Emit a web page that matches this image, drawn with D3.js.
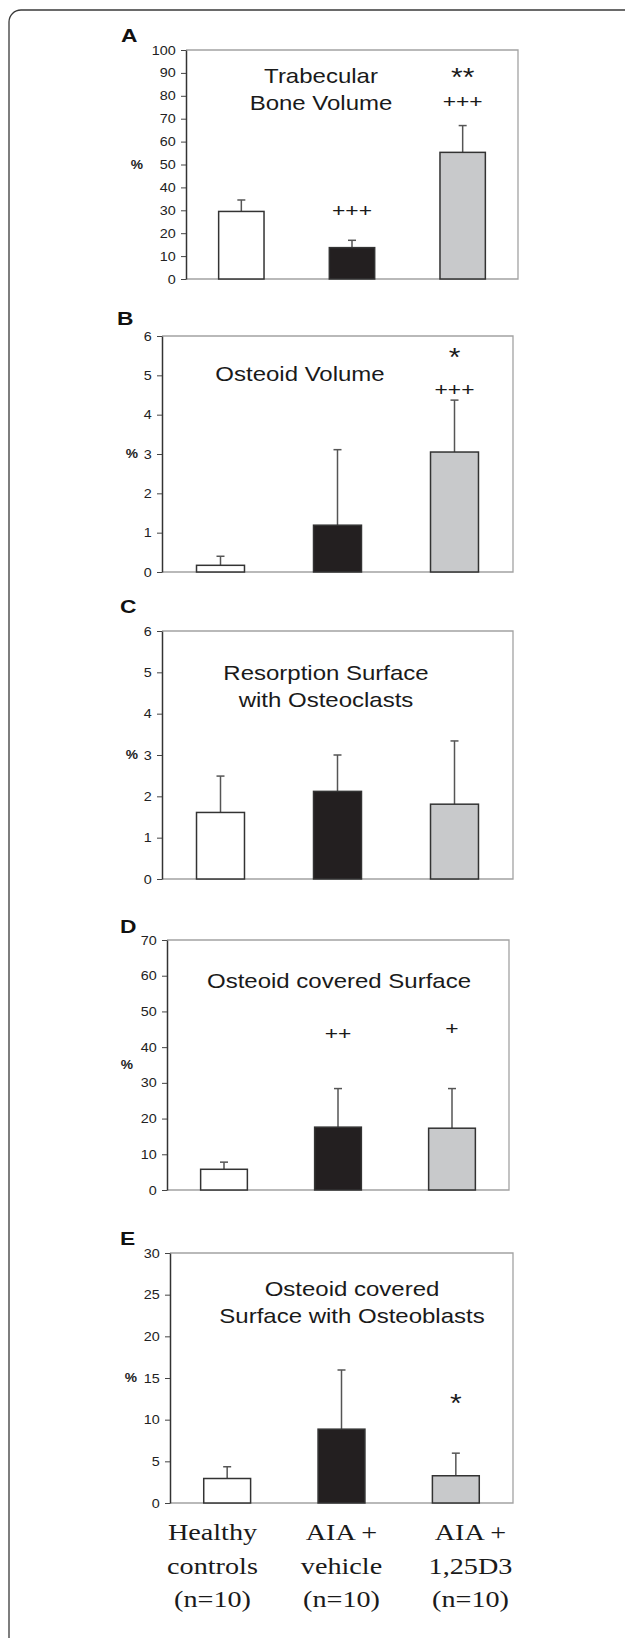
<!doctype html>
<html>
<head>
<meta charset="utf-8">
<title>Bone histomorphometry</title>
<script src="https://cdn.jsdelivr.net/npm/d3@7"></script>
<style>
  body { margin:0; background:#fff; }
  svg { display:block; }
  .tick text { font-family: Arial, "Liberation Sans", sans-serif; font-size: 12.5px; fill:#222; }
  .tick line { stroke:#444; }
</style>
</head>
<body>
<svg id="chart" width="625" height="1638"></svg>
<script>
// groups (x categories)
var groups = ["Healthy controls", "AIA + vehicle", "AIA + 1,25D3"];
var groupLines = [["Healthy", "controls", "(n=10)"], ["AIA +", "vehicle", "(n=10)"], ["AIA +", "1,25D3", "(n=10)"]];
var fills = ["#ffffff", "#231f20", "#c8c9cb"];

// panels
var panelIds = ["A", "B", "C", "D", "E"];
var panelTitles = [["Trabecular", "Bone Volume"], ["Osteoid Volume"], ["Resorption Surface", "with Osteoclasts"], ["Osteoid covered Surface"], ["Osteoid covered", "Surface with Osteoblasts"]];
var yMax = [100, 6, 6, 70, 30];
var yStep = [10, 1, 1, 10, 5];

// means and SD
var means = [
  [29.5, 13.7, 55.3],
  [0.17, 1.19, 3.05],
  [1.61, 2.12, 1.81],
  [5.8, 17.6, 17.3],
  [2.94, 8.86, 3.27]
];
var sds = [
  [5.0, 3.2, 11.7],
  [0.23, 1.92, 1.32],
  [0.88, 0.88, 1.53],
  [2.0, 10.8, 11.1],
  [1.41, 7.1, 2.71]
];

// significance marks: [group index, symbol, y value]
var marks = [
  [[1, "+++", 30], [2, "**", 90.5], [2, "+++", 77.4]],
  [[2, "*", 5.6], [2, "+++", 4.64]],
  [],
  [[1, "++", 44], [2, "+", 45.3]],
  [[2, "*", 12.6]]
];

// layout (pixels)
var boxes = [
  {l: 186, r: 518, t: 50, b: 279, lx: 121, ly: 42, tx: 321, ty: 83, px: 137, pv: 50},
  {l: 162, r: 513, t: 336, b: 572, lx: 117, ly: 325, tx: 300, ty: 381, px: 132, pv: 3},
  {l: 162, r: 513, t: 631, b: 879, lx: 120, ly: 613, tx: 326, ty: 680, px: 132, pv: 3},
  {l: 167, r: 509, t: 940, b: 1190, lx: 120, ly: 933, tx: 339, ty: 988, px: 127, pv: 35},
  {l: 170, r: 513, t: 1253, b: 1503, lx: 120, ly: 1245, tx: 352, ty: 1296, px: 131, pv: 15}
];

var SX = 1.2;
var sans = "Arial, 'Liberation Sans', sans-serif";
var svg = d3.select("#chart");

function stext(sel, x, y, str, size) {
  return sel.append("text")
    .attr("transform", "translate(" + x + "," + y + ") scale(" + SX + ",1)")
    .attr("text-anchor", "middle")
    .style("font-family", sans)
    .style("font-size", size + "px")
    .style("fill", "#1a1a1a")
    .text(str);
}

// outer frame
svg.append("rect")
  .attr("x", 9).attr("y", 10).attr("width", 700).attr("height", 1700)
  .attr("rx", 12)
  .attr("fill", "none").attr("stroke", "#3a3a3a").attr("stroke-width", 1.3);

boxes.forEach(function(bx, p) {
  var g = svg.append("g");

  var x = d3.scaleBand().domain(groups).range([bx.l, bx.r])
      .paddingInner(0.59).paddingOuter(0.295);
  var y = d3.scaleLinear().domain([0, yMax[p]]).range([bx.b, bx.t]);

  // gray frame (top, right, bottom)
  g.append("path")
    .attr("d", "M" + bx.l + "," + bx.t + "H" + bx.r + "V" + bx.b + "H" + bx.l)
    .attr("fill", "none").attr("stroke", "#a3a3a3").attr("stroke-width", 1.3);

  var axis = g.append("g")
    .attr("transform", "translate(" + bx.l + ",0)")
    .call(d3.axisLeft(y)
      .tickValues(d3.range(0, yMax[p] + yStep[p] / 2, yStep[p]))
      .tickFormat(d3.format("d"))
      .tickSize(5).tickSizeOuter(0).tickPadding(4));
  axis.select(".domain").attr("stroke", "#333").attr("stroke-width", 1.5);
  axis.selectAll(".tick text").attr("transform", "scale(1.15,1)");

  // error bars
  groups.forEach(function(gr, i) {
    var cx = x(gr) + x.bandwidth() / 2;
    var top = y(means[p][i] + sds[p][i]);
    g.append("line")
      .attr("x1", cx).attr("x2", cx)
      .attr("y1", y(means[p][i])).attr("y2", top)
      .attr("stroke", "#555").attr("stroke-width", 1.5);
    g.append("line")
      .attr("x1", cx - 4).attr("x2", cx + 4)
      .attr("y1", top).attr("y2", top)
      .attr("stroke", "#555").attr("stroke-width", 1.5);
  });

  // bars
  g.selectAll("rect.bar")
    .data(means[p])
    .enter().append("rect")
      .attr("class", "bar")
      .attr("x", function(d, i) { return x(groups[i]); })
      .attr("width", x.bandwidth())
      .attr("y", function(d) { return y(d); })
      .attr("height", function(d) { return y(0) - y(d); })
      .attr("fill", function(d, i) { return fills[i]; })
      .attr("stroke", "#333").attr("stroke-width", 1.5);

  // panel letter
  g.append("text")
    .attr("transform", "translate(" + bx.lx + "," + bx.ly + ") scale(1.2,1)")
    .style("font-family", sans).style("font-weight", "bold").style("font-size", "19px")
    .style("fill", "#111")
    .text(panelIds[p]);

  // title
  panelTitles[p].forEach(function(line, k) {
    stext(g, bx.tx, bx.ty + k * 27, line, 20);
  });

  // % label
  g.append("text")
    .attr("transform", "translate(" + bx.px + "," + y(bx.pv) + ") scale(1.15,1)")
    .attr("text-anchor", "middle").attr("dy", "0.35em")
    .style("font-family", sans).style("font-weight", "bold").style("font-size", "12px")
    .style("fill", "#222")
    .text("%");

  // significance marks
  marks[p].forEach(function(m) {
    var cx = x(groups[m[0]]) + x.bandwidth() / 2;
    var star = m[1].indexOf("*") >= 0;
    var size = star ? 25 : 19;
    var base = y(m[2]) + (star ? 0.57 : 0.35) * size;
    stext(g, cx, base, m[1], size);
  });
});

// category labels under the last panel
var xl = d3.scaleBand().domain(groups).range([148, 535]);
groups.forEach(function(gr, i) {
  groupLines[i].forEach(function(line, k) {
    svg.append("text")
      .attr("transform", "translate(" + (xl(gr) + xl.bandwidth() / 2) + "," + (1540 + k * 33.5) + ") scale(1.2,1)")
      .attr("text-anchor", "middle")
      .style("font-family", "'Liberation Serif', 'Times New Roman', serif")
      .style("font-size", "23.5px")
      .style("fill", "#1a1a1a")
      .text(line);
  });
});
</script>
</body>
</html>
